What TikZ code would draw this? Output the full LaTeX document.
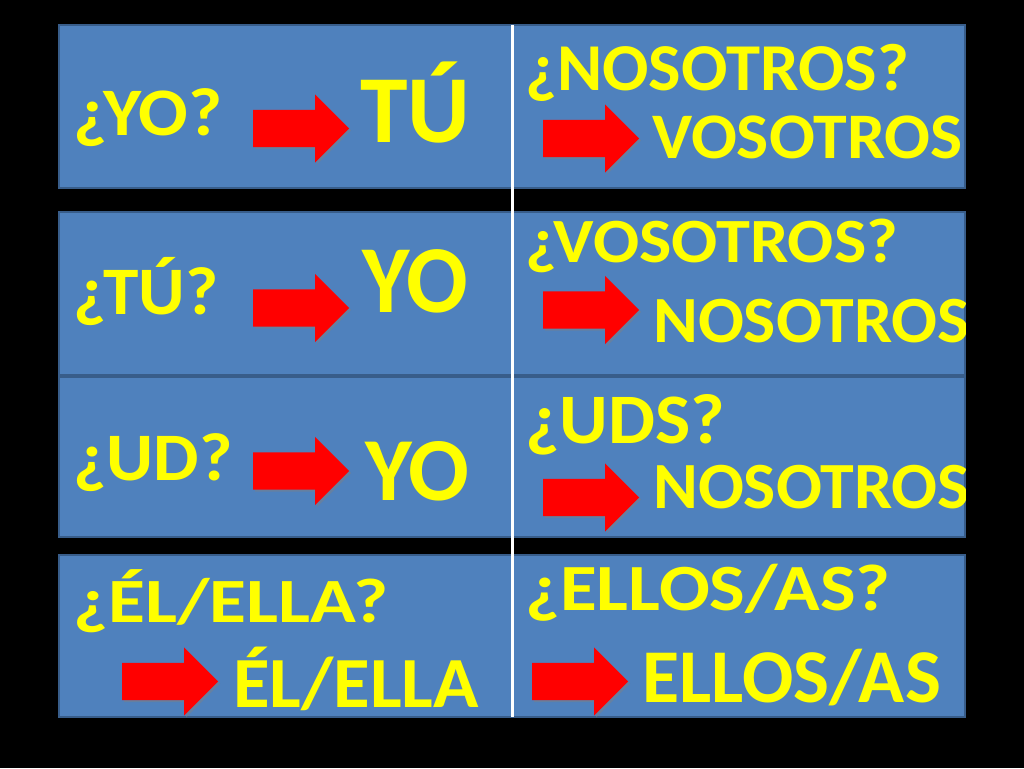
\documentclass[tikz,border=0pt]{standalone}
\usepackage{fontspec}
\setmainfont{Carlito}
\usepackage{tikz}
\usetikzlibrary{shapes.arrows}
\usetikzlibrary{shadows}
\definecolor{slideblue}{HTML}{4F81BD}
\definecolor{slideedge}{HTML}{385D8A}
\definecolor{wordyellow}{HTML}{FFFF00}
\newcommand{\fs}[1]{\fontsize{#1}{#1}\selectfont\bfseries}
\newcommand{\widen}[2]{\scalebox{#1}[1]{#2}}
\tikzstyle{panel}=[fill=slideblue, draw=slideedge, line width=2pt]
\tikzstyle{word}=[text=wordyellow, anchor=base west, inner sep=0pt]
\tikzstyle{redarrow}=[single arrow, fill=red, draw=none, anchor=tail, inner sep=18.5pt,
  single arrow head extend=15.5pt, minimum height=96pt,
  drop shadow={opacity=0.45, shadow xshift=2pt, shadow yshift=-2pt}]

\begin{document}
\begin{tikzpicture}[x=1pt, y=-1pt]
      \fill[black] (0, 0) rectangle (1024, 768);
      \useasboundingbox (0, 0) rectangle (1024, 768);

      % the four rows
      \draw[panel] (59, 25) rectangle (965, 188);
      \draw[panel] (59, 212) rectangle (965, 375);
      \draw[panel] (59, 377) rectangle (965, 537);
      \draw[panel] (59, 555) rectangle (965, 717);

      \coordinate (top) at (512, 25);
      \coordinate (bottom) at (512, 717);
      \draw[white, line width=3pt] (top) -- (bottom);

      % arrows, left column
      \draw node at (253, 128.5) [redarrow] (la1) {};
      \draw node at (253, 308) [redarrow] (la2) {};
      \draw node at (253, 471) [redarrow] (la3) {};
      \draw node at (122, 681.5) [redarrow] (la4) {};

      % arrows, right column
      \draw node at (543, 138.5) [redarrow] (ra1) {};
      \draw node at (543, 310) [redarrow] (ra2) {};
      \draw node at (543, 497.5) [redarrow] (ra3) {};
      \draw node at (532, 681.5) [redarrow] (ra4) {};

      \begin{scope}
        \clip (0, 0) rectangle (965, 768);
        % left column
        \draw node at (73, 135) [word, font=\fs{68}] (yo) {\widen{1.08}{¿YO?}};
        \draw node at (360, 142) [word, font=\fs{96}] (tu) {TÚ};
        \draw node at (73, 314) [word, font=\fs{68}] (tuq) {\widen{1.05}{¿TÚ?}};
        \draw node at (362, 312) [word, font=\fs{96}] (yoa) {\widen{0.95}{YO}};
        \draw node at (73, 480) [word, font=\fs{68}] (ud) {\widen{1.06}{¿UD?}};
        \draw node at (365, 500) [word, font=\fs{90}] (yob) {YO};
        \draw node at (73, 622) [word, font=\fs{63}] (el) {\widen{1.2}{¿ÉL/ELLA?}};
        \draw node at (233, 707) [word, font=\fs{72}] (ela) {\widen{1.04}{ÉL/ELLA}};

        % right column
        \draw node at (525, 90) [word, font=\fs{67}] (nos) {\widen{1.025}{¿NOSOTROS?}};
        \draw node at (652, 158) [word, font=\fs{65}] (vosa) {\widen{1.045}{VOSOTROS}};
        \draw node at (525, 262) [word, font=\fs{63}] (vos) {\widen{1.085}{¿VOSOTROS?}};
        \draw node at (653, 342) [word, font=\fs{66}] (nosa) {\widen{1.03}{NOSOTROS}};
        \draw node at (525, 443) [word, font=\fs{71}] (uds) {\widen{1.05}{¿UDS?}};
        \draw node at (653, 508) [word, font=\fs{66}] (nosb) {\widen{1.03}{NOSOTROS}};
        \draw node at (525, 610) [word, font=\fs{66}] (ellos) {\widen{1.14}{¿ELLOS/AS?}};
        \draw node at (642, 702) [word, font=\fs{76}] (ellosa) {ELLOS/AS};
      \end{scope}
    \end{tikzpicture}
\end{document}
